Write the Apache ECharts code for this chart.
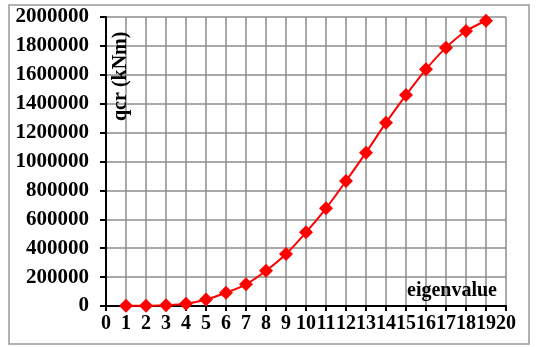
<!DOCTYPE html>
<html><head><meta charset="utf-8">
<script src="https://cdn.jsdelivr.net/npm/echarts@6/dist/echarts.min.js"></script>
<style>html,body{margin:0;padding:0;background:#fff}#c{width:536px;height:347px}</style>
</head><body><div id="c"></div>
<script>
var eigenvalues = [1,2,3,4,5,6,7,8,9,10,11,12,13,14,15,16,17,18,19];
var qcr = [1000,2000,5000,15000,45000,92000,150000,244000,360000,510000,676000,865000,1061000,1269000,1460000,1638000,1788000,1903000,1974000];
var yAxisTitle = 'qcr (kNm)';
var xAxisTitle = 'eigenvalue';

var chart = echarts.init(document.getElementById('c'), null, {renderer:'canvas'});
var font = 'Liberation Serif';
chart.setOption({
  animation:false,
  grid:{left:106,right:30,top:17,bottom:41,show:false},
  xAxis:{type:'value',min:0,max:20,interval:1,
    axisLine:{show:true,onZero:false,lineStyle:{color:'#000',width:2}},
    axisTick:{show:true,length:5,lineStyle:{color:'#000',width:2}},
    splitLine:{show:true,lineStyle:{color:'#8c8c8c',width:1.5}},
    axisLabel:{color:'#000',fontFamily:font,fontWeight:'bold',fontSize:20,margin:8,showMinLabel:true,showMaxLabel:true,
      formatter:function(v){return String(v);}}},
  yAxis:{type:'value',min:0,max:2000000,interval:200000,
    axisLine:{show:true,onZero:false,lineStyle:{color:'#000',width:2}},
    axisTick:{show:true,length:6,lineStyle:{color:'#000',width:2}},
    splitLine:{show:true,lineStyle:{color:'#8c8c8c',width:1.5}},
    axisLabel:{color:'#000',fontFamily:font,fontWeight:'bold',fontSize:21,margin:17,
      formatter:function(v){return String(v);}}},
  graphic:[
    {type:'rect',shape:{x:9,y:5,width:520,height:339},style:{fill:'none',stroke:'#999',lineWidth:1.5},z:-1},
    {type:'text',x:111,y:121,rotation:Math.PI/2,style:{text:yAxisTitle,fill:'#000',font:'bold 20px "Liberation Serif"',textAlign:'left',textVerticalAlign:'top'},z:10},
    {type:'text',x:497,y:291,style:{text:xAxisTitle,fill:'#000',font:'bold 20px "Liberation Serif"',textAlign:'right',textVerticalAlign:'middle'},z:10}
  ],
  series:[{type:'line',data:eigenvalues.map(function(e,i){return [e,qcr[i]];}),
    smooth:0.3,symbol:'diamond',symbolSize:14,
    lineStyle:{color:'#ff0000',width:2},itemStyle:{color:'#ff0000'},z:5}]
});
</script></body></html>
